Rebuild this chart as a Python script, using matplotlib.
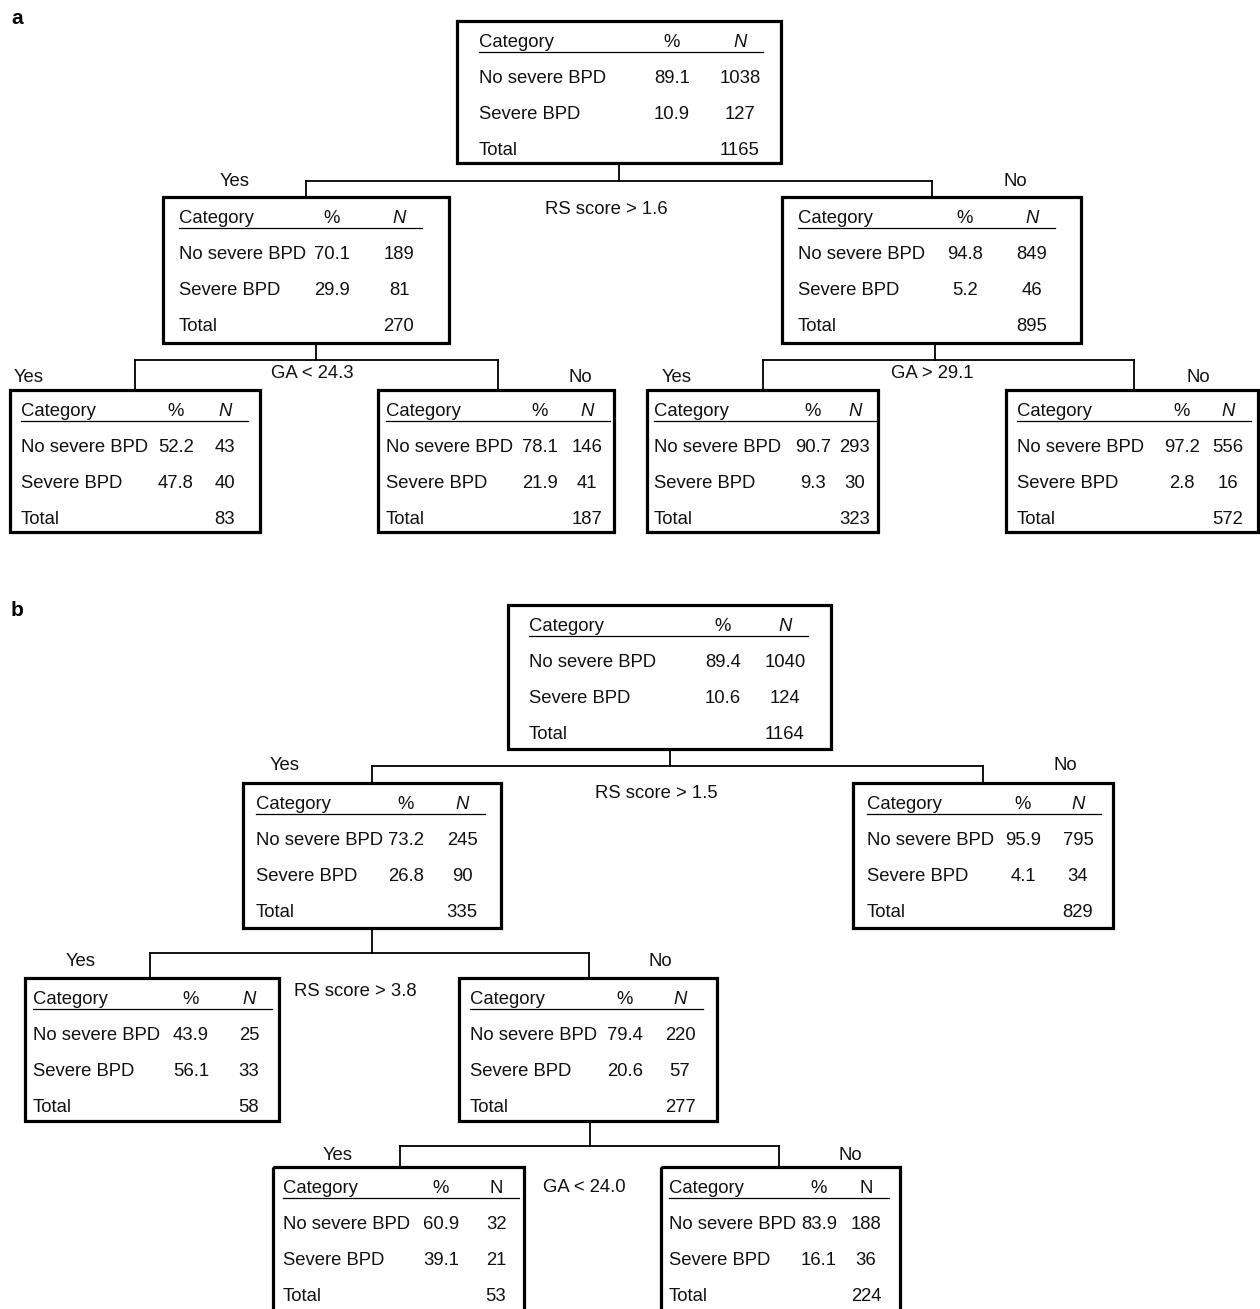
import matplotlib
matplotlib.use("Agg")
import matplotlib.pyplot as plt
from matplotlib.patches import Rectangle

plt.rcParams['font.family'] = ['Liberation Sans', 'DejaVu Sans']

# ---- data -------------------------------------------------------------
categories = ["No severe BPD", "Severe BPD"]
header = ["Category", "%", "N"]

# panel a: root, yes-child, no-child, then the four leaves
a_no_pct = [89.1, 70.1, 94.8, 52.2, 78.1, 90.7, 97.2]
a_no_n = [1038, 189, 849, 43, 146, 293, 556]
a_sev_pct = [10.9, 29.9, 5.2, 47.8, 21.9, 9.3, 2.8]
a_sev_n = [127, 81, 46, 40, 41, 30, 16]
a_total = [1165, 270, 895, 83, 187, 323, 572]
a_splits = ["RS score > 1.6", "GA < 24.3", "GA > 29.1"]

# panel b: root, yes-child, no-child, yes-leaf, no-child, two leaves
b_no_pct = [89.4, 73.2, 95.9, 43.9, 79.4, 60.9, 83.9]
b_no_n = [1040, 245, 795, 25, 220, 32, 188]
b_sev_pct = [10.6, 26.8, 4.1, 56.1, 20.6, 39.1, 16.1]
b_sev_n = [124, 90, 34, 33, 57, 21, 36]
b_total = [1164, 335, 829, 58, 277, 53, 224]
b_splits = ["RS score > 1.5", "RS score > 3.8", "GA < 24.0"]

# ---- layout (pixel coordinates, y downward) ---------------------------
# box: x0, y0, x1, y1, category x, % centre, N centre, italic N
a_boxes = [
    (457, 21, 781, 163, 479, 672, 740, True),
    (163, 197, 449, 343, 179, 332, 399, True),
    (782, 197, 1081, 343, 798, 965, 1032, True),
    (10, 390, 260, 532, 21, 176, 225, True),
    (378, 390, 614, 532, 386, 540, 587, True),
    (647, 390, 878, 532, 654, 813, 855, True),
    (1006, 390, 1258, 532, 1017, 1182, 1228, True),
]
b_boxes = [
    (508, 605, 831, 749, 529, 723, 785, True),
    (243, 783, 501, 928, 256, 406, 462, True),
    (853, 783, 1113, 928, 867, 1023, 1078, True),
    (25, 978, 279, 1121, 33, 191, 249, True),
    (459, 978, 717, 1121, 470, 625, 680, True),
    (273, 1167, 524, 1315, 283, 441, 496, False),
    (661, 1167, 900, 1315, 669, 819, 866, False),
]
# split: parent index, yes child, no child, stem x, bar y, bar x0, bar x1,
#        yes label (x, y), no label (x, y), rule label (x, y)
a_links = [
    (0, 1, 2, 619, 181, 306, 932, (235, 181), (1015, 181), (606, 210)),
    (1, 3, 4, 316, 360, 135, 498, (29, 377), (580, 377), (312, 373)),
    (2, 5, 6, 935, 360, 763, 1134, (677, 377), (1198, 377), (932, 373)),
]
b_links = [
    (0, 1, 2, 670, 766, 372, 983, (285, 766), (1065, 766), (656, 794)),
    (1, 3, 4, 372, 953, 150, 589, (81, 962), (660, 962), (355, 991)),
    (4, 5, 6, 590, 1146, 400, 779, (338, 1155), (850, 1155), (584, 1187)),
]

FS = 13.3
TXT = "#111111"

fig = plt.figure(figsize=(12.6, 13.09), dpi=100)
ax = fig.add_axes([0, 0, 1, 1])
ax.set_xlim(0, 1260)
ax.set_ylim(1309, 0)
ax.axis("off")


def draw_box(b, no_pct, no_n, sev_pct, sev_n, tot):
    x0, y0, x1, y1, cx, px, nx, ital = b
    ax.add_patch(Rectangle((x0, y0), x1 - x0, y1 - y0, fill=False,
                           lw=2.3, ec="black", zorder=3))
    yh, yu = y0 + 26, y0 + 31
    rows = [y0 + 62, y0 + 98, y0 + 134]
    kw = dict(fontsize=FS, va="baseline", color=TXT)
    ax.text(cx, yh, header[0], ha="left", **kw)
    ax.text(px, yh, header[1], ha="center", **kw)
    ax.text(nx, yh, header[2], ha="center",
            style="italic" if ital else "normal", **kw)
    ax.plot([cx, nx + 23], [yu, yu], color="black", lw=0.9)
    ax.text(cx, rows[0], categories[0], ha="left", **kw)
    ax.text(px, rows[0], f"{no_pct:.1f}", ha="center", **kw)
    ax.text(nx, rows[0], f"{no_n}", ha="center", **kw)
    ax.text(cx, rows[1], categories[1], ha="left", **kw)
    ax.text(px, rows[1], f"{sev_pct:.1f}", ha="center", **kw)
    ax.text(nx, rows[1], f"{sev_n}", ha="center", **kw)
    ax.text(cx, rows[2], "Total", ha="left", **kw)
    ax.text(nx, rows[2], f"{tot}", ha="center", **kw)


def draw_tree(boxes, links, splits, no_pct, no_n, sev_pct, sev_n, tot):
    for i, b in enumerate(boxes):
        draw_box(b, no_pct[i], no_n[i], sev_pct[i], sev_n[i], tot[i])
    for (p, yc, nc, sx, by, bx0, bx1, yl, nl, rl), rule in zip(links, splits):
        py1 = boxes[p][3]
        ytop = boxes[yc][1]
        ntop = boxes[nc][1]
        lk = dict(color="black", lw=1.3, zorder=2)
        ax.plot([sx, sx], [py1, by], **lk)
        ax.plot([bx0, bx1], [by, by], **lk)
        ax.plot([bx0, bx0], [by, ytop], **lk)
        ax.plot([bx1, bx1], [by, ntop], **lk)
        kw = dict(fontsize=FS, va="center", ha="center", color=TXT)
        ax.text(*yl, "Yes", **kw)
        ax.text(*nl, "No", **kw)
        ax.text(*rl, rule, **kw)


draw_tree(a_boxes, a_links, a_splits, a_no_pct, a_no_n, a_sev_pct, a_sev_n, a_total)
draw_tree(b_boxes, b_links, b_splits, b_no_pct, b_no_n, b_sev_pct, b_sev_n, b_total)

ax.text(17, 18, "a", fontsize=15, fontweight="bold", va="center", ha="center")
ax.text(17, 611, "b", fontsize=15, fontweight="bold", va="center", ha="center")

fig.savefig("out.png", dpi=100)
